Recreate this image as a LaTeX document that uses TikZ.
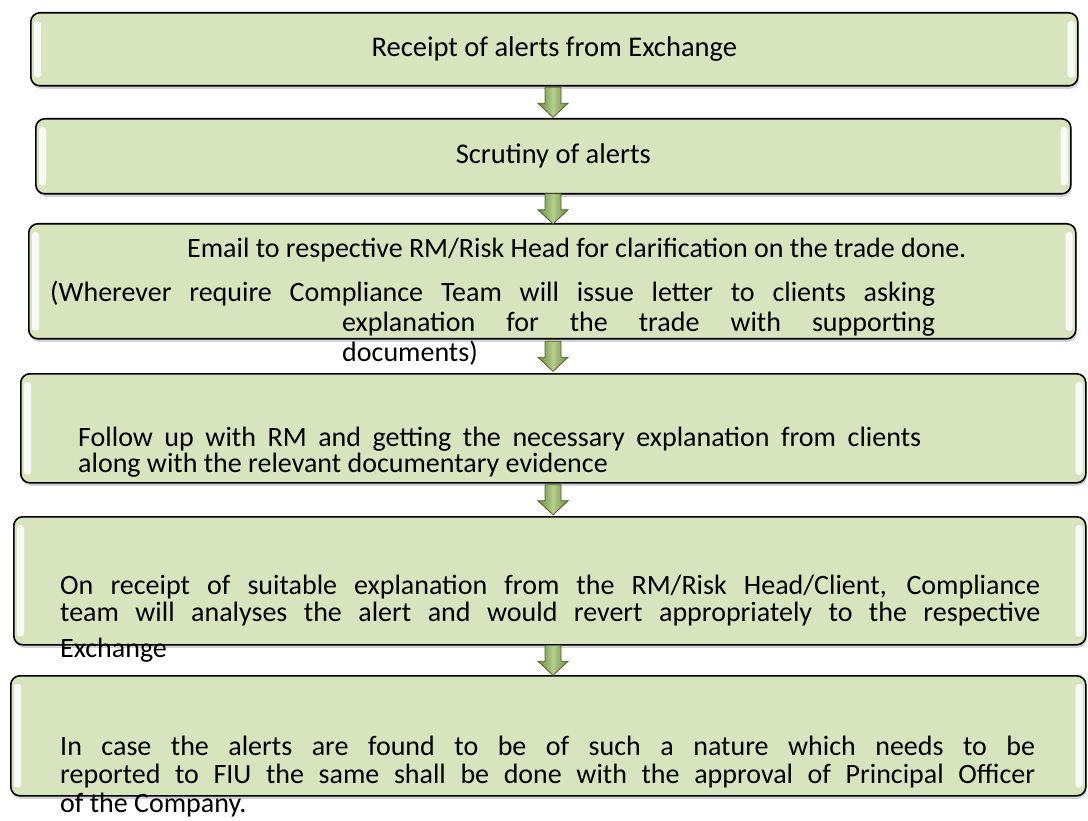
\documentclass[tikz,border=0pt]{standalone}
\usepackage{fontspec}
\setmainfont{Carlito}
\usetikzlibrary{shadows,calc}
\definecolor{boxfill}{HTML}{D7E4BD}
\definecolor{arrdark}{HTML}{6B8A3A}
\definecolor{arrlight}{HTML}{B5CC8E}
\definecolor{arredge}{HTML}{4F6228}
\tikzset{
  flowbox/.style={draw=black, line width=1.6pt, rounded corners=9pt, fill=boxfill,
    drop shadow={opacity=0.35, shadow xshift=1pt, shadow yshift=-3pt},
    anchor=north west, inner sep=0pt},
  txt/.style={anchor=base west, inner sep=0pt, font=\fontsize{28}{30}\selectfont},
  ctxt/.style={anchor=center, inner sep=0pt, font=\fontsize{28.5}{30}\selectfont},
  gloss/.style={fill=white, opacity=0.85, rounded corners=3pt},
  downarr/.pic={\draw[arredge, line width=0.8pt, left color=arrdark, right color=arrdark, middle color=arrlight]
     (-8,-15) -- (8,-15) -- (8,1) -- (15,1) -- (0,15) -- (-15,1) -- (-8,1) -- cycle;}
}
\begin{document}
\begin{tikzpicture}[x=1pt,y=-1pt]
\useasboundingbox (0,0) rectangle (1088,821);
% boxes
\node[flowbox, minimum width=1047pt, minimum height=73pt] (b1) at (30,12) {};
\node[flowbox, minimum width=1035pt, minimum height=75pt] (b2) at (35,118) {};
\node[flowbox, minimum width=1047pt, minimum height=115pt] (b3) at (28,223) {};
\node[flowbox, minimum width=1065pt, minimum height=109pt] (b4) at (20,373) {};
\node[flowbox, minimum width=1072pt, minimum height=128pt] (b5) at (13,516) {};
\node[flowbox, minimum width=1075pt, minimum height=120pt] (b6) at (10,675) {};
% gloss highlights
\foreach \b in {b1,b2,b3,b4,b5,b6}{
  \fill[gloss] ($(\b.north west)+(4,9)$) rectangle ($(\b.south west)+(11,-9)$);
  \fill[gloss] ($(\b.north east)+(-4,9)$) rectangle ($(\b.south east)+(-11,-9)$);
}
% arrows
\coordinate (ax) at (553,0);
\pic at ($(ax |- b1.south)!.5!(ax |- b2.north)$) {downarr};
\pic at ($(ax |- b2.south)!.5!(ax |- b3.north)$) {downarr};
\pic at ($(ax |- b3.south)!.5!(ax |- b4.north)$) {downarr};
\pic at ($(ax |- b4.south)!.5!(ax |- b5.north)$) {downarr};
\pic at ($(ax |- b5.south)!.5!(ax |- b6.north)$) {downarr};
% texts
\node[ctxt] (t1) at (b1.center) {Receipt of alerts from Exchange};
\node[ctxt] (t2) at (b2.center) {Scrutiny of alerts};
\node[txt] (t3a) at (187,258) {Email to respective RM/Risk Head for clarification on the trade done.};
\node[txt] (t3b) at (50,302) {\makebox[885pt][s]{(Wherever require Compliance Team will issue letter to clients asking}};
\node[txt] (t3c) at (342,331) {\makebox[593pt][s]{explanation for the trade with supporting}};
\node[txt] (t3d) at (342,361) {documents)};
\node[txt] (t4a) at (78,446) {\makebox[843pt][s]{Follow up with RM and getting the necessary explanation from clients}};
\node[txt] (t4b) at (78,472) {along with the relevant documentary evidence};
\node[txt] (t5a) at (60,594) {\makebox[980pt][s]{On receipt of suitable explanation from the RM/Risk Head/Client, Compliance}};
\node[txt] (t5b) at (60,621) {\makebox[980pt][s]{team will analyses the alert and would revert appropriately to the respective}};
\node[txt] (t5c) at (60,657) {Exchange};
\node[txt] (t6a) at (60,755) {\makebox[975pt][s]{In case the alerts are found to be of such a nature which needs to be}};
\node[txt] (t6b) at (60,783) {\makebox[975pt][s]{reported to FIU the same shall be done with the approval of Principal Officer}};
\node[txt] (t6c) at (60,812) {of the Company.};
\end{tikzpicture}
\end{document}
